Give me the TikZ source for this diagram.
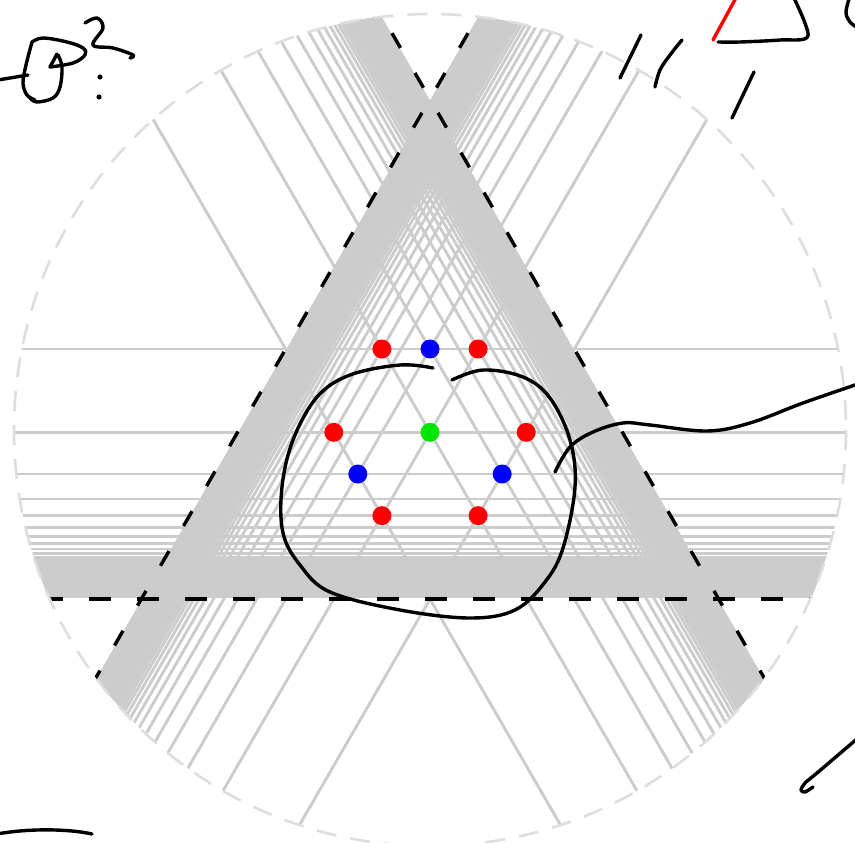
\documentclass[tikz,border=0pt]{standalone}
\usetikzlibrary{calc}
\definecolor{linegray}{RGB}{204,204,204}
\definecolor{rimgray}{RGB}{222,222,222}
\definecolor{pureblue}{RGB}{0,0,255}
\definecolor{puregreen}{RGB}{0,230,0}
\definecolor{purered}{RGB}{255,0,0}
\begin{document}
\begin{tikzpicture}[x=1pt,y=-1pt,
  gline/.style={line width=2.9pt, draw=linegray},
  baseline dash/.style={line width=3.6pt, draw=black, dash pattern=on 22pt off 26pt},
  edgeline/.style={line width=3.4pt, draw=black, dash pattern=on 17pt off 29pt},
  rim/.style={line width=2.6pt, draw=rimgray, dash pattern=on 20pt off 14pt},
  dotnode/.style={circle, inner sep=0pt, minimum size=19pt, draw=none},
  hand/.style={line width=3.4pt, draw=black, line cap=round, line join=round},
]
\useasboundingbox (0,0) rectangle (855,843);
\fill[white] (0,0) rectangle (855,843);
\coordinate (O) at (430,430);
\coordinate (A) at (430,99);
\coordinate (B) at (141.34,599);
\coordinate (C) at (718.66,599);

\begin{scope}
  \clip (O) circle (416);
  \foreach \n in {2,...,200} {
    \pgfmathsetmacro\d{500/\n}
    \draw[gline] (0,{599-\d}) -- (855,{599-\d});
    \draw[gline] ({141.34+0.866*\d-250},{599+0.5*\d+433}) -- ({141.34+0.866*\d+550},{599+0.5*\d-952.6});
    \draw[gline] ({718.66-0.866*\d+250},{599+0.5*\d+433}) -- ({718.66-0.866*\d-550},{599+0.5*\d-952.6});
  }
  \draw[baseline dash] ($(B)!-3!(C)$) -- ($(C)!-3!(B)$);
  \draw[edgeline] ($(A)!-3!(B)$) -- ($(B)!-3!(A)$);
  \draw[edgeline] ($(A)!-3!(C)$) -- ($(C)!-3!(A)$);
\end{scope}
\draw[rim] (O) circle (416);

% special points
\node[dotnode, fill=purered]  (r1) at (barycentric cs:A=0.5,B=0.33333,C=0.16667) {};
\node[dotnode, fill=pureblue]  (b1) at (barycentric cs:A=0.5,B=0.25,C=0.25) {};
\node[dotnode, fill=purered]  (r2) at (barycentric cs:A=0.5,B=0.16667,C=0.33333) {};
\node[dotnode, fill=purered]  (r3) at (barycentric cs:A=0.33333,B=0.5,C=0.16667) {};
\node[dotnode, fill=puregreen] (g1) at (barycentric cs:A=0.33333,B=0.33333,C=0.33333) {};
\node[dotnode, fill=purered]  (r4) at (barycentric cs:A=0.33333,B=0.16667,C=0.5) {};
\node[dotnode, fill=pureblue]  (b2) at (barycentric cs:A=0.25,B=0.5,C=0.25) {};
\node[dotnode, fill=pureblue]  (b3) at (barycentric cs:A=0.25,B=0.25,C=0.5) {};
\node[dotnode, fill=purered]  (r5) at (barycentric cs:A=0.16667,B=0.5,C=0.33333) {};
\node[dotnode, fill=purered]  (r6) at (barycentric cs:A=0.16667,B=0.33333,C=0.5) {};

% handwriting
\draw[hand] plot[smooth, tension=0.6] coordinates {(433,368) (400,365) (350,375) (317,397) (293,440) (282,487) (283,533) (300,565) (330,592) (400,610) (470,618) (515,610) (545,582) (563,548) (575,487) (570,440) (550,398) (523,377) (483,370) (452,380)};
\draw[hand] plot[smooth, tension=0.6] coordinates {(555,472) (570,447) (593,432) (623,423) (650,425) (707,431) (750,423) (803,403) (858,384)};
% top left
\draw[hand] (-2,80) -- (28,75);
\draw[hand] plot[smooth, tension=0.6] coordinates {(32,42) (26,65) (23,83) (27,95) (35,100)};
\draw[hand] plot[smooth, tension=0.6] coordinates {(32,42) (43,38) (67,42) (83,48) (85,55) (73,63) (50,67)};
\draw[hand] (50,67) -- (57,54);
\draw[hand] plot[smooth, tension=0.6] coordinates {(58,55) (62,67) (60,87) (53,98) (37,102) (30,98)};
\draw[hand] plot[smooth, tension=0.6] coordinates {(85,23) (97,18) (103,28) (93,45) (113,48) (133,55) (130,58)};
\fill (100,77) circle (2.6);
\fill (99,97) circle (2.6);
% top right
\draw[hand, draw=purered] (713,40) -- (737,-4);
\draw[hand] plot[smooth, tension=0.5] coordinates {(718,42) (740,42) (780,40) (808,36) (793,-4)};
\draw[hand] plot[smooth, tension=0.6] coordinates {(850,-4) (846,12) (850,22) (858,28)};
\draw[hand] (620,78) -- (641,35);
\draw[hand] plot[smooth, tension=0.6] coordinates {(655,87) (660,70) (670,55) (682,40)};
\draw[hand] (732,118) -- (754,72);
% bottom
\draw[hand] (-3,834) .. controls (30,828) and (70,829) .. (92,834);
\draw[hand] plot[smooth, tension=0.5] coordinates {(858,738) (817,773) (805,783) (801,790) (805,792) (813,787)};
\end{tikzpicture}
\end{document}
